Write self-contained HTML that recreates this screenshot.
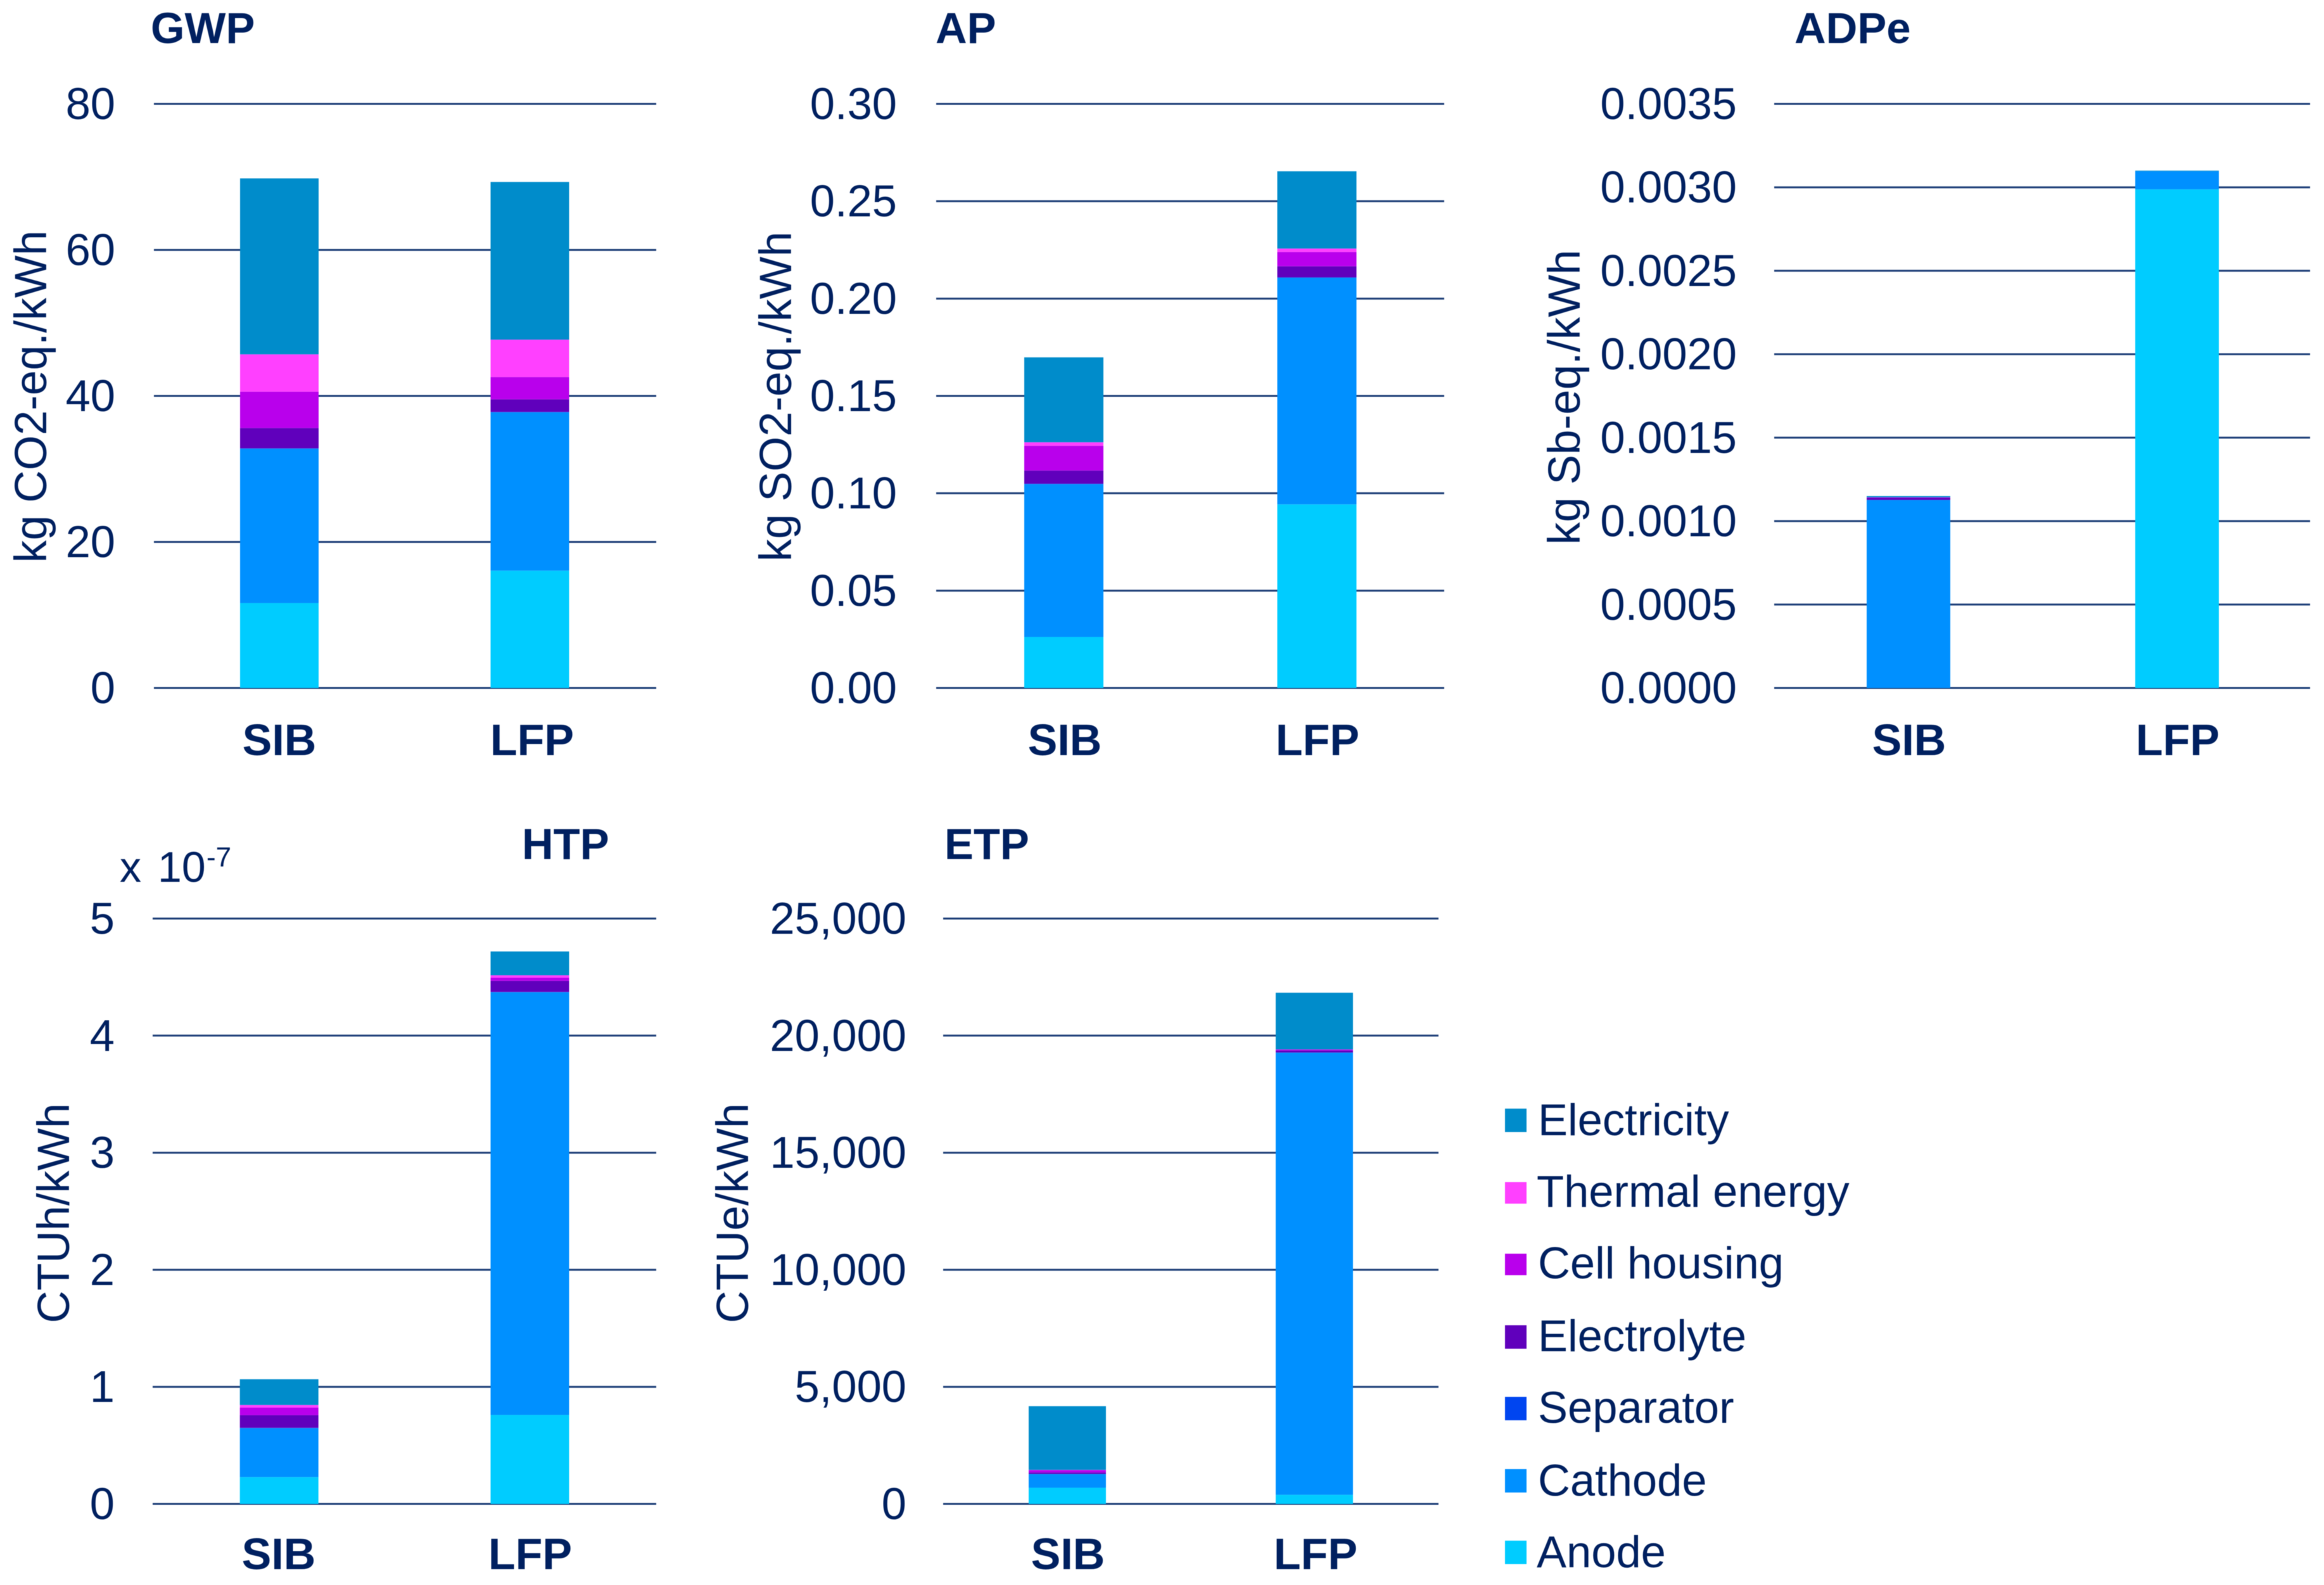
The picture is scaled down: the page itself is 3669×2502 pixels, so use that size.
<!DOCTYPE html>
<html lang="en">
<head>
<meta charset="utf-8">
<title>Life cycle impact per kWh: SIB vs LFP</title>
<style>
html,body{margin:0;padding:0;background:#fff;width:3669px;height:2502px;overflow:hidden}
svg{display:block;font-family:"Liberation Sans",Arial,sans-serif;fill:#002060;filter:blur(0.6px)}
.tick,.leg,.exp{font-size:70.5px}
.title{font-size:68.8px;font-weight:bold}
.cat{font-size:70px;font-weight:bold;text-anchor:middle}
.tick{text-anchor:end}
.ytitle{font-size:71px;text-anchor:middle}
.leg{font-size:70.5px}
</style>
</head>
<body>
<svg id="chart" xmlns="http://www.w3.org/2000/svg" width="3669" height="2502" viewBox="0 0 3669 2502">
  <rect x="0" y="0" width="3669" height="2502" fill="#ffffff"/>
  <text class="title" x="238" y="68">GWP</text>
  <text class="title" x="1477" y="68">AP</text>
  <text class="title" x="2833" y="68">ADPe</text>
  <text class="title" x="824" y="1356">HTP</text>
  <text class="title" x="1491" y="1356">ETP</text>

  <text class="ytitle" transform="translate(73,626) rotate(-90)">kg CO2-eq./kWh</text>
  <text class="ytitle" transform="translate(1249,626) rotate(-90)">kg SO2-eq./kWh</text>
  <text class="ytitle" transform="translate(2494,627) rotate(-90)">kg Sb-eq./kWh</text>
  <text class="ytitle" transform="translate(109,1915) rotate(-90)">CTUh/kWh</text>
  <text class="ytitle" transform="translate(1181,1915) rotate(-90)">CTUe/kWh</text>

  <g>
    <text class="exp" style="font-size:68px" x="189" y="1392">x</text>
    <text class="exp" style="font-size:68px" x="249" y="1392">10</text>
    <text class="exp" style="font-size:44px" x="326" y="1368">-7</text>
  </g>

  <g id="panels"></g>

  <g>
    <g><rect x="2376" y="1750" width="34" height="37" fill="#008CCB"/><text class="leg" x="2428" y="1792">Electricity</text></g>
    <g><rect x="2376" y="1866" width="34" height="34" fill="#FF40FF"/><text class="leg" x="2426" y="1905">Thermal energy</text></g>
    <g><rect x="2376" y="1979" width="34" height="34" fill="#B900EC"/><text class="leg" x="2428" y="2018">Cell housing</text></g>
    <g><rect x="2376" y="2092" width="34" height="37" fill="#6000BC"/><text class="leg" x="2428" y="2133">Electrolyte</text></g>
    <g><rect x="2376" y="2205" width="34" height="37" fill="#0045F0"/><text class="leg" x="2428" y="2246">Separator</text></g>
    <g><rect x="2376" y="2319" width="34" height="37" fill="#0090FF"/><text class="leg" x="2428" y="2361">Cathode</text></g>
    <g><rect x="2376" y="2432" width="34" height="37" fill="#00CCFF"/><text class="leg" x="2426" y="2474">Anode</text></g>
  </g>
</svg>
<script>
// Stack order, bottom to top
const seriesNames = ["Anode", "Cathode", "Separator", "Electrolyte", "Cell housing", "Thermal energy", "Electricity"];
const categories = ["SIB", "LFP"];

const gwpTicks = ["0", "20", "40", "60", "80"];
const gwpMax = 80;
const gwpSIB = [11.63, 21.15, 0.05, 2.77, 4.98, 5.12, 24.1];
const gwpLFP = [16.07, 21.69, 0.05, 1.73, 3.05, 5.12, 21.6];

const apTicks = ["0.00", "0.05", "0.10", "0.15", "0.20", "0.25", "0.30"];
const apMax = 0.30;
const apSIB = [0.0262, 0.0785, 0.0002, 0.0068, 0.0127, 0.0018, 0.0436];
const apLFP = [0.0943, 0.1164, 0.0002, 0.0057, 0.0073, 0.0018, 0.0397];

const adpeTicks = ["0.0000", "0.0005", "0.0010", "0.0015", "0.0020", "0.0025", "0.0030", "0.0035"];
const adpeMax = 0.0035;
const adpeSIB = [0, 0.001127, 0, 0.000012, 0.000003, 0, 0.000008];
const adpeLFP = [0.002988, 0.000109, 0, 0, 0, 0, 0.000003];

const htpTicks = ["0", "1", "2", "3", "4", "5"];
const htpMax = 5;
const htpSIB = [0.229, 0.419, 0.002, 0.108, 0.065, 0.022, 0.22];
const htpLFP = [0.76, 3.611, 0.002, 0.095, 0.026, 0.022, 0.203];

const etpTicks = ["0", "5,000", "10,000", "15,000", "20,000", "25,000"];
const etpMax = 25000;
const etpSIB = [691, 583, 5, 65, 100, 10, 2720];
const etpLFP = [389, 18885, 5, 86, 43, 5, 2420];

// Colours and layout, kept apart from the data
const seriesColors = ["#00CCFF", "#0090FF", "#0045F0", "#6000BC", "#B900EC", "#FF40FF", "#008CCB"];
const gridColor = "#1F4079";

const panels = [
  { id: "gwp", ticks: gwpTicks, max: gwpMax, stacks: [gwpSIB, gwpLFP],
    left: 243, right: 1036, top: 164, bottom: 1086, labelRight: 182,
    barCenters: [441, 836.5], barWidth: 124, catCenters: [441, 840], catBaseline: 1192 },
  { id: "ap", ticks: apTicks, max: apMax, stacks: [apSIB, apLFP],
    left: 1478, right: 2280, top: 164, bottom: 1086, labelRight: 1416,
    barCenters: [1679.5, 2079], barWidth: 125, catCenters: [1681, 2080], catBaseline: 1192 },
  { id: "adpe", ticks: adpeTicks, max: adpeMax, stacks: [adpeSIB, adpeLFP],
    left: 2801, right: 3647, top: 164, bottom: 1086, labelRight: 2742,
    barCenters: [3013, 3437], barWidth: 132, catCenters: [3014, 3438], catBaseline: 1192 },
  { id: "htp", ticks: htpTicks, max: htpMax, stacks: [htpSIB, htpLFP],
    left: 241, right: 1036, top: 1450, bottom: 2374, labelRight: 181,
    barCenters: [440.7, 836.5], barWidth: 124, catCenters: [440, 837], catBaseline: 2477 },
  { id: "etp", ticks: etpTicks, max: etpMax, stacks: [etpSIB, etpLFP],
    left: 1489, right: 2271, top: 1450, bottom: 2374, labelRight: 1431,
    barCenters: [1685, 2075], barWidth: 122, catCenters: [1686, 2077], catBaseline: 2477 }
];

const SVG_NS = "http://www.w3.org/2000/svg";
const root = document.getElementById("panels");

function make(tag, attrs, parent) {
  const node = document.createElementNS(SVG_NS, tag);
  for (const key in attrs) node.setAttribute(key, attrs[key]);
  parent.appendChild(node);
  return node;
}

function slug(text) {
  return text.toLowerCase().replace(/\s+/g, "-");
}

panels.forEach(function (p) {
  const yScale = function (v) {
    return p.bottom - (v / p.max) * (p.bottom - p.top);
  };

  const group = make("g", {}, root);
  
  

  p.ticks.forEach(function (label, i) {
    const value = (i / (p.ticks.length - 1)) * p.max;
    const y = yScale(value);

    const line = make("line", { x1: p.left, x2: p.right, y1: y, y2: y, stroke: gridColor, "stroke-width": 3 }, group);
    
    

    const text = make("text", { class: "tick", x: p.labelRight, y: y + 24 }, group);
    text.textContent = label;
    
    
  });

  categories.forEach(function (cat, c) {
    let running = 0;
    const stack = p.stacks[c];
    const x = p.barCenters[c] - p.barWidth / 2;

    stack.forEach(function (value, s) {
      const y0 = yScale(running);
      running += value;
      const y1 = yScale(running);
      if (value <= 0) return;
      const seg = make("rect", { x: x, y: y1, width: p.barWidth, height: y0 - y1, fill: seriesColors[s] }, group);
      
      
    });

    const label = make("text", { class: "cat", x: p.catCenters[c], y: p.catBaseline }, group);
    label.textContent = cat;
    
    
  });
});
</script>
</body>
</html>
